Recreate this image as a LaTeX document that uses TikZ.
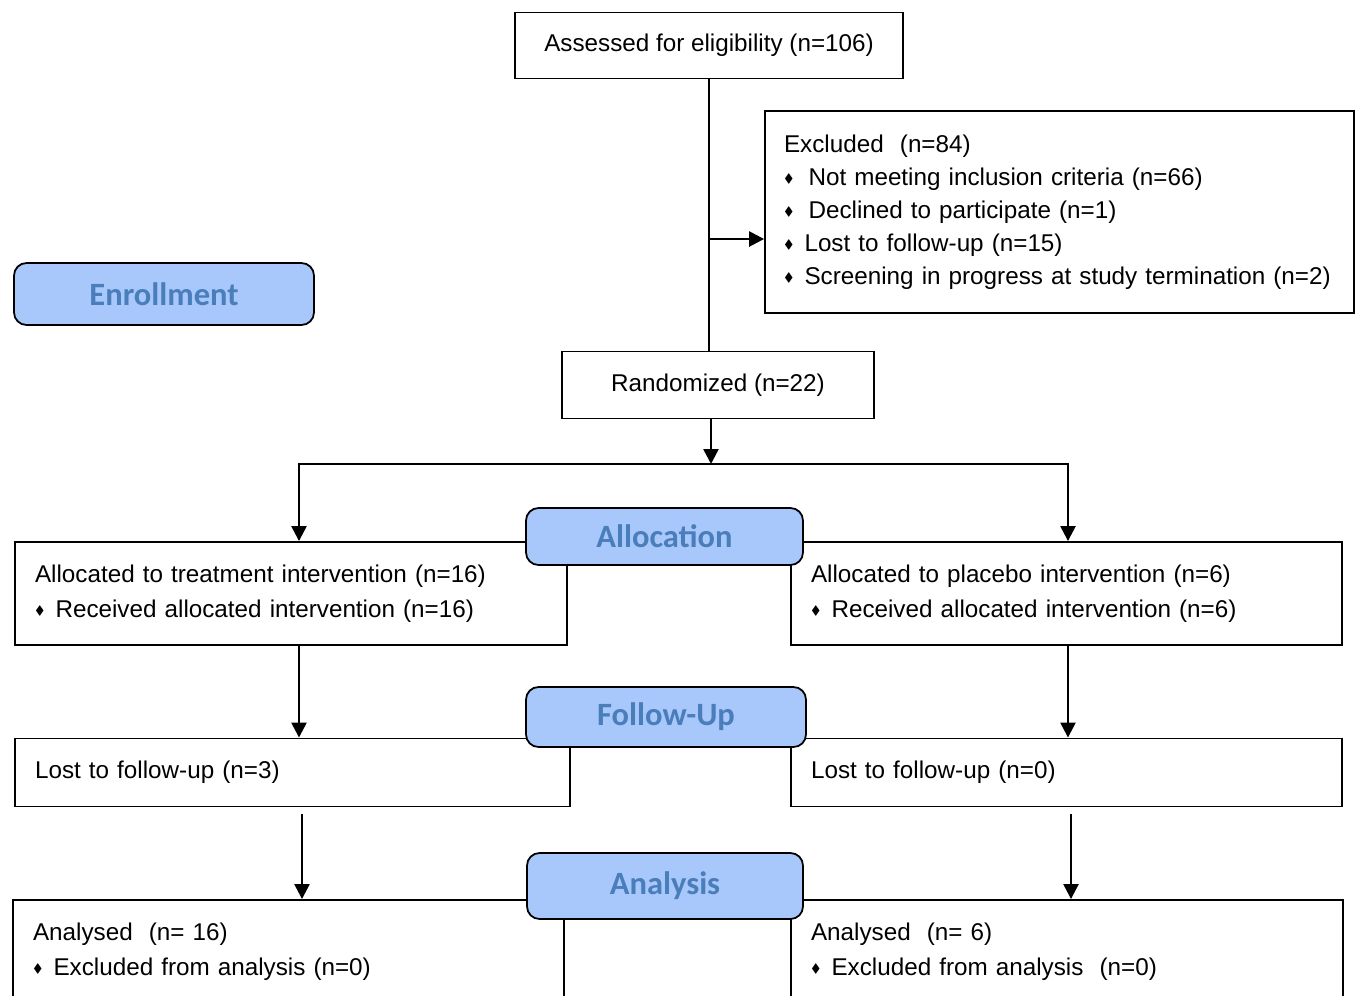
\documentclass[tikz,border=0pt]{standalone}
\usepackage{amsmath,amssymb}
\usepackage{fontspec}
\setmainfont{Liberation Sans}
\newfontfamily\phasefont{Carlito}
\usetikzlibrary{arrows.meta,positioning,calc}
\definecolor{PhaseFill}{RGB}{168,199,250}
\definecolor{PhaseText}{RGB}{74,126,187}
\newcommand{\bul}{\raisebox{0.2ex}{\scriptsize$\blacklozenge$}\hspace{0.22cm}}

\begin{document}
\begin{tikzpicture}[x=0.02cm, y=-0.02cm, line width=1.1pt,
    box/.style={draw, rectangle, inner xsep=0.4cm, inner ysep=0pt, font=\fontsize{13.8}{20}\selectfont},
    listbox/.style={box, align=left, text width=#1},
    phase/.style={draw, fill=PhaseFill, rounded corners=0.25cm, line width=1pt, inner sep=0pt,
      font=\phasefont\bfseries\fontsize{18.5}{20}\selectfont, text=PhaseText},
    arr/.style={line width=1.4pt, -{Triangle[length=8.5pt,width=8.5pt]}}]
  \useasboundingbox (0,0) rectangle (1357,995);
  \clip (0,0) rectangle (1357,995);

  % Enrollment
  \node[box, minimum width=7.76cm, minimum height=1.32cm] (assess) at (709,45.5) {Assessed for eligibility (n=106)};
  \node[listbox=11.02cm, inner xsep=0.38cm, minimum height=4.04cm, font=\fontsize{13.8}{18.8}\selectfont] (excl) at (1059.5,212) {Excluded\ \ (n=84)\\
    \bul\hspace{0.08cm}Not meeting inclusion criteria (n=66)\\
    \bul\hspace{0.08cm}Declined to participate (n=1)\\
    \bul Lost to follow-up (n=15)\\
    \bul Screening in progress at study termination (n=2)};
  \node[box, minimum width=6.24cm, minimum height=1.34cm] (rand) at (718,385) {Randomized (n=22)};

  % Allocation
  \node[listbox=10.24cm, minimum height=2.06cm] (alloc1) at (291,593.5) {Allocated to treatment intervention (n=16)\\
    \bul Received allocated intervention (n=16)};
  \node[listbox=10.22cm, minimum height=2.06cm] (alloc2) at (1066.5,593.5) {Allocated to placebo intervention (n=6)\\
    \bul Received allocated intervention (n=6)};

  % Follow-up
  \node[listbox=10.3cm, minimum height=1.36cm] (fu1) at (292.5,772.5) {Lost to follow-up (n=3)};
  \node[listbox=10.22cm, minimum height=1.36cm] (fu2) at (1066.5,772.5) {Lost to follow-up (n=0)};

  % Analysis
  \node[listbox=10.22cm, minimum height=2.06cm] (an1) at (288.5,951.5) {Analysed\ \ (n= 16)\\
    \bul Excluded from analysis (n=0)};
  \node[listbox=10.24cm, minimum height=2.06cm] (an2) at (1067,951.5) {Analysed\ \ (n= 6)\\
    \bul Excluded from analysis\ \ (n=0)};

  % Phase labels
  \node[phase, minimum width=6cm, minimum height=1.24cm] (enrol) at (164,294) {Enrollment};
  \node[phase, minimum width=5.54cm, minimum height=1.14cm] (allocp) at (664.5,536.5) {\raisebox{-0.08cm}{Allocation}};
  \node[phase, minimum width=5.6cm, minimum height=1.2cm] (fup) at (666,717) {\raisebox{-0.06cm}{Follow-Up}};
  \node[phase, minimum width=5.52cm, minimum height=1.32cm] (anp) at (665,886) {Analysis};

  % Connectors
  \coordinate (exbr) at (710,239);
  \coordinate (split) at (711,464);
  \draw[line width=1.4pt] (assess.south) -- (assess.south |- rand.north);
  \draw[arr] (exbr) -- (exbr -| excl.west);
  \draw[arr] (split |- rand.south) -- (split);
  \draw[arr] (split) -| ([xshift=0.16cm]alloc1.north);
  \draw[arr] (split) -| ([xshift=0.03cm]alloc2.north);
  \draw[arr] ([xshift=0.16cm]alloc1.south) -- ([xshift=0.16cm]alloc1.south |- fu1.north);
  \draw[arr] ([xshift=0.03cm]alloc2.south) -- ([xshift=0.03cm]alloc2.south |- fu2.north);
  \draw[arr] ([shift={(0.19cm,-0.14cm)}]fu1.south) -- ([xshift=0.19cm]fu1.south |- an1.north);
  \draw[arr] ([shift={(0.09cm,-0.14cm)}]fu2.south) -- ([xshift=0.09cm]fu2.south |- an2.north);
\end{tikzpicture}
\end{document}
